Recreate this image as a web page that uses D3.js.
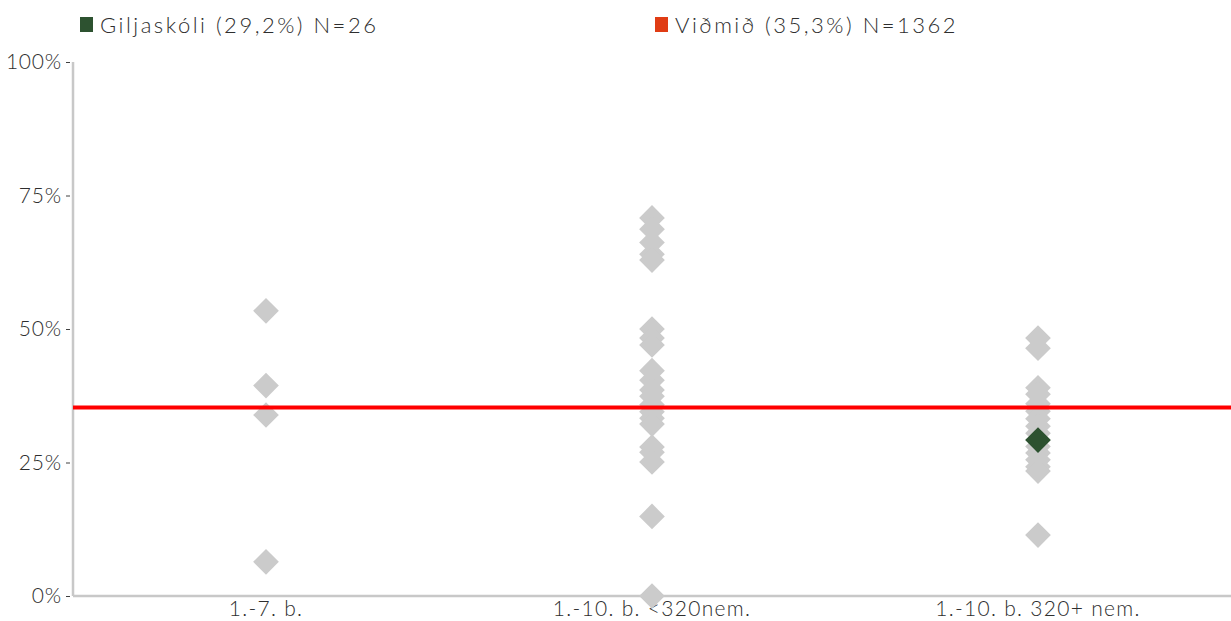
<!DOCTYPE html>
<html>
<head>
<meta charset="utf-8">
<script src="https://cdn.jsdelivr.net/npm/d3@7"></script>
<style>
  body { margin: 0; background: #fff; }
  svg { display: block; }
  text { font-family: Lato, sans-serif; font-weight: 300; fill: #2e2e2e; }
</style>
</head>
<body>
<svg id="chart"></svg>
<script>
var width = 1231
var height = 621

// categories on the x axis
var categories = ["1.-7. b.", "1.-10. b. <320nem.", "1.-10. b. 320+ nem."]

// other schools, one array per category (percent)
var schools1to7 = [53.4, 39.4, 33.9, 6.4]
var schoolsSmall = [70.8, 68.7, 66.2, 64.0, 62.9, 50.0, 48.3, 47.0, 42.2, 40.4, 38.6, 37.4, 35.8, 34.5, 33.3, 32.2, 27.9, 26.9, 25.1, 14.9, 0]
var schoolsLarge = [48.3, 46.4, 39.0, 37.8, 36.0, 34.6, 33.2, 31.8, 30.5, 28.0, 26.8, 25.5, 24.2, 23.4, 11.4]

// the school itself
var schoolName = "Giljaskóli"
var schoolValue = 29.2
var schoolN = 26
var schoolCategory = "1.-10. b. 320+ nem."

// reference line
var refName = "Viðmið"
var refValue = 35.3
var refN = 1362

var yTicks = [0, 25, 50, 75, 100]

var margin = {top: 62, right: 0, bottom: 25, left: 73}

var svg = d3.select("#chart").attr("width", width).attr("height", height)

var x = d3.scaleBand()
    .domain(categories)
    .range([margin.left, width - margin.right])

var y = d3.scaleLinear()
    .domain([0, 100])
    .range([height - margin.bottom, margin.top])

var others = [schools1to7, schoolsSmall, schoolsLarge]
var points = others.flatMap((vals, i) => vals.map(v => ({cat: categories[i], value: v})))

// y axis
var yAxis = svg.append("g")
    .attr("transform", `translate(${margin.left},0)`)
    .call(d3.axisLeft(y).tickValues(yTicks).tickFormat(d => d + "%").tickSize(5).tickPadding(4))
yAxis.select(".domain").remove()
yAxis.selectAll(".tick line").attr("stroke", "#404040").attr("x1", -7).attr("x2", -3)
yAxis.selectAll(".tick text").attr("font-size", 21).attr("letter-spacing", "0.8px").attr("fill", "#2e2e2e").attr("dx", -2)

svg.append("line")
    .attr("x1", margin.left).attr("x2", margin.left)
    .attr("y1", y(100)).attr("y2", y(0))
    .attr("stroke", "#c8c8c8").attr("stroke-width", 2.5)

svg.append("line")
    .attr("x1", margin.left).attr("x2", width)
    .attr("y1", y(0)).attr("y2", y(0))
    .attr("stroke", "#c8c8c8").attr("stroke-width", 2.5)

// x labels
var xAxis = svg.append("g")
    .attr("transform", `translate(0,${y(0)})`)
    .call(d3.axisBottom(x).tickSize(0).tickPadding(5))
xAxis.select(".domain").remove()
xAxis.selectAll(".tick text").attr("font-size", 21).attr("letter-spacing", "1.3px").attr("fill", "#2e2e2e")

var diamond = d3.symbol().type(d3.symbolSquare).size(330)

svg.append("g")
    .selectAll("path")
    .data(points)
    .join("path")
    .attr("d", diamond)
    .attr("transform", d => `translate(${x(d.cat) + x.bandwidth() / 2},${y(d.value)}) rotate(45)`)
    .attr("fill", "#cbcbcb")

// reference line
svg.append("line")
    .attr("x1", margin.left).attr("x2", width)
    .attr("y1", y(refValue)).attr("y2", y(refValue))
    .attr("stroke", "#ff0000").attr("stroke-width", 4)

// school point
svg.append("path")
    .attr("d", diamond)
    .attr("transform", `translate(${x(schoolCategory) + x.bandwidth() / 2},${y(schoolValue)}) rotate(45)`)
    .attr("fill", "#2d5230")

// legend
var fmt = v => v.toFixed(1).replace(".", ",")
var legend = [
  {label: `${schoolName} (${fmt(schoolValue)}%) N=${schoolN}`, color: "#2d5230", x: 80},
  {label: `${refName} (${fmt(refValue)}%) N=${refN}`, color: "#e03c14", x: 655}
]
var lg = svg.append("g").selectAll("g").data(legend).join("g")
    .attr("transform", d => `translate(${d.x},17)`)
lg.append("rect").attr("width", 13).attr("height", 15).attr("fill", d => d.color)
lg.append("text")
    .attr("x", 20).attr("y", 16)
    .attr("font-size", 22)
    .attr("letter-spacing", "2.5px")
    .text(d => d.label)
</script>
</body>
</html>
